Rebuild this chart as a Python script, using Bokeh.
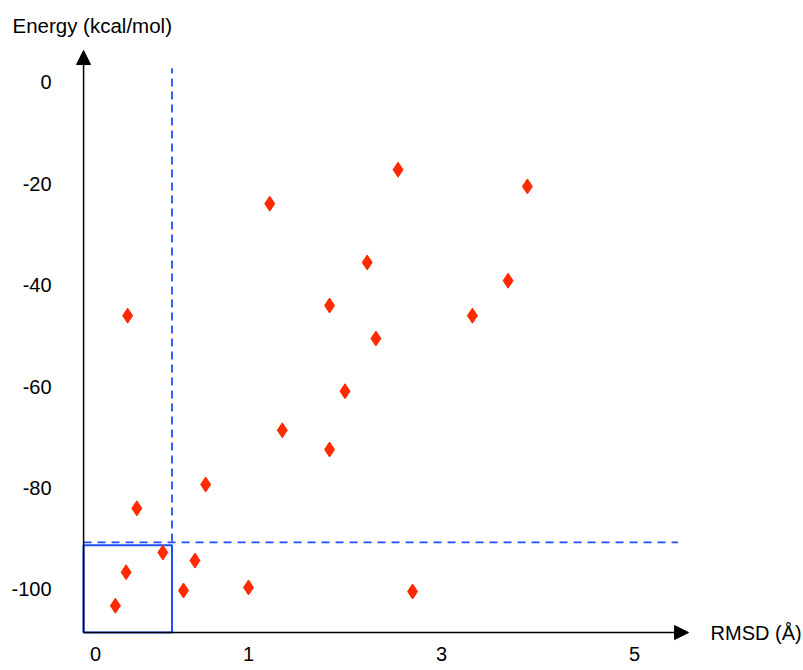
import numpy as np
from bokeh.plotting import figure
from bokeh.models import Range1d, LinearAxis, FixedTicker, Arrow, NormalHead, Label
from bokeh.embed import file_html
from bokeh.resources import INLINE

# ---- data ----
rmsd = [0.21, 0.27, 0.20, 0.13, 0.44, 0.65, 0.575, 0.72, 1.00, 1.22, 1.35,
        1.84, 1.84, 2.00, 2.23, 2.32, 2.55, 2.70, 3.32, 3.69, 3.89]
energy = [-46.0, -84.0, -96.6, -103.2, -92.7, -94.3, -100.2, -79.3, -99.6, -23.9, -68.6,
          -44.0, -72.4, -60.9, -35.5, -50.5, -17.2, -100.4, -46.0, -39.1, -20.5]
x_ticks = [0, 1, 3, 5]
x_tick_labels = ["0", "1", "3", "5"]
y_ticks = [0, -20, -40, -60, -80, -100]
y_tick_labels = ["0", "-20", "-40", "-60", "-80", "-100"]
rmsd_cut = 0.5          # vertical dashed threshold
energy_cut = -90.7      # horizontal dashed threshold
box_top = -91.3         # top of the highlighted box
x_title = "RMSD (Å)"
y_title = "Energy (kcal/mol)"

# ---- sketch-axis geometry (the 0..1 stretch is drawn wider than the rest) ----
FIRST_UNIT = 1.5855
def to_u(r):
    r = np.asarray(r, dtype=float)
    return np.where(r < 1, 1 - (1 - r) * FIRST_UNIT, r)

R_ORIGIN = -0.078
E_ORIGIN = -108.5
U_ORIGIN = float(to_u(R_ORIGIN))

RED = "#ff2a00"
BLUE = "#1e4fff"
FONT = "Liberation Sans"

p = figure(width=803, height=670, x_range=Range1d(-1.570, 6.751), y_range=Range1d(-115.98, 16.17),
           output_backend="svg", toolbar_location=None, min_border=0,
           x_axis_type=None, y_axis_type=None)
p.outline_line_color = None
p.background_fill_color = "white"

# axes with tick labels only
xt = [float(v) for v in to_u(x_ticks)]
xaxis = LinearAxis(fixed_location=E_ORIGIN, ticker=FixedTicker(ticks=xt),
                   major_label_overrides={t: l for t, l in zip(xt, x_tick_labels)})
yaxis = LinearAxis(fixed_location=U_ORIGIN, ticker=FixedTicker(ticks=y_ticks),
                   major_label_overrides={float(t): l for t, l in zip(y_ticks, y_tick_labels)})
for ax, standoff in ((xaxis, 14), (yaxis, 32)):
    ax.axis_line_color = None
    ax.major_tick_line_color = None
    ax.minor_tick_line_color = None
    ax.major_tick_out = 0
    ax.major_tick_in = 0
    ax.major_label_standoff = standoff
    ax.major_label_text_font = FONT
    ax.major_label_text_font_size = "20px"
    ax.major_label_text_color = "black"
p.add_layout(xaxis, "below")
p.add_layout(yaxis, "left")

# dashed threshold lines
u_cut = float(to_u(rmsd_cut))
p.segment(x0=[u_cut], y0=[E_ORIGIN], x1=[u_cut], y1=[2.8], line_color=BLUE, line_width=1.8, line_dash="8 5")
p.segment(x0=[U_ORIGIN], y0=[energy_cut], x1=[5.45], y1=[energy_cut], line_color=BLUE, line_width=1.8, line_dash="8 6")

# axis arrows
head = dict(size=14, fill_color="black", line_color="black")
p.add_layout(Arrow(x_start=U_ORIGIN, y_start=E_ORIGIN, x_end=U_ORIGIN, y_end=6.3,
                   end=NormalHead(**head), line_color="black", line_width=1.5))
p.add_layout(Arrow(x_start=U_ORIGIN, y_start=E_ORIGIN, x_end=5.56, y_end=E_ORIGIN,
                   end=NormalHead(**head), line_color="black", line_width=1.5))

# highlighted box
p.quad(left=[U_ORIGIN], right=[u_cut], bottom=[E_ORIGIN], top=[box_top],
       fill_color=None, line_color=BLUE, line_width=2)

# points
p.scatter(x=to_u(rmsd), y=energy, marker="diamond", size=15,
          fill_color=RED, line_color=RED, line_width=1)

# axis titles
p.add_layout(Label(x=-1.446, y=11.2, text=y_title, text_font=FONT, text_font_size="20.5px",
                   text_align="left", text_baseline="middle", text_color="black"))
p.add_layout(Label(x=5.788, y=E_ORIGIN, text=x_title, text_font=FONT, text_font_size="20px",
                   text_align="left", text_baseline="middle", text_color="black"))

open("out.html", "w").write(file_html(p, INLINE))
